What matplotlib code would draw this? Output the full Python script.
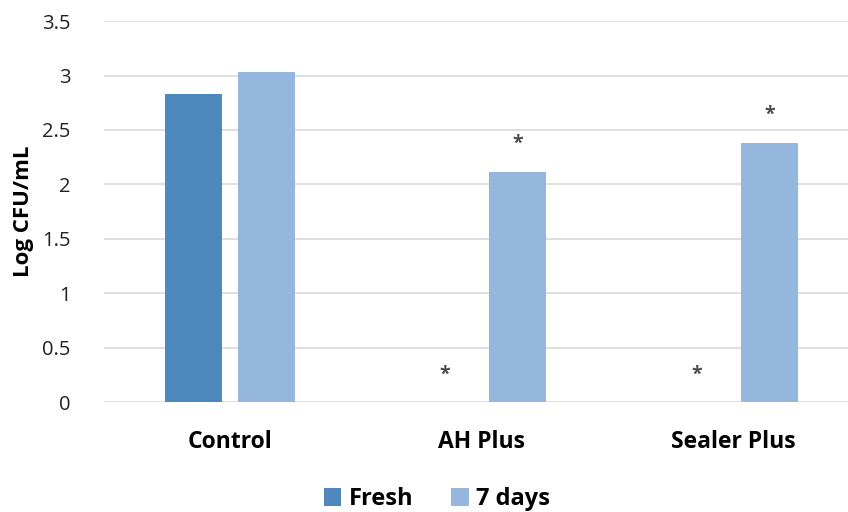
import numpy as np
import matplotlib.pyplot as plt

# dados
groups = ['Control', 'AH Plus', 'Sealer Plus']
fresh = [2.83, 0.0, 0.0]
seven_days = [3.03, 2.11, 2.38]
# asteriscos (diferenca significativa): (grupo, serie, altura)
star_fresh = [None, 0.25, 0.25]
star_7d = [None, 2.37, 2.64]

plt.rcParams['font.family'] = ['Open Sans', 'DejaVu Sans']

fig = plt.figure(figsize=(8.48, 5.12), dpi=100)
ax = fig.add_axes([0.1226, 0.2148, 0.890, 0.744])

x = np.arange(len(groups))
w = 0.226
off = 0.145
c_fresh = '#4f88bd'
c_7d = '#95b7dd'

ax.bar(x - off, fresh, w, color=c_fresh, label='Fresh', zorder=2)
ax.bar(x + off, seven_days, w, color=c_7d, label='7 days', zorder=2)

for i in range(len(groups)):
    if star_fresh[i] is not None:
        ax.text(x[i] - off, star_fresh[i], '*', ha='center', va='center',
                fontsize=14, fontweight='bold', color='#4a4a4a')
    if star_7d[i] is not None:
        ax.text(x[i] + off, star_7d[i], '*', ha='center', va='center',
                fontsize=14, fontweight='bold', color='#4a4a4a')

ax.set_xlim(-0.5, 2.5)
ax.set_ylim(0, 3.5)
ax.set_yticks(np.arange(0, 3.51, 0.5))
ax.set_yticklabels(['0', '0.5', '1', '1.5', '2', '2.5', '3', '3.5'])
ax.set_xticks(x)
ax.set_xticklabels(groups, fontsize=16.5, fontweight='bold')
ax.tick_params(axis='y', labelsize=14.5, length=0, pad=24)
ax.tick_params(axis='x', length=0, pad=20)
for lab in ax.get_yticklabels():
    lab.set_color('#222222')

ax.grid(axis='y', color='#d9d9d9', linewidth=1.2, zorder=0)
ax.set_axisbelow(True)
for s in ax.spines.values():
    s.set_visible(False)

ax.set_ylabel('Log CFU/mL', fontsize=16, fontweight='bold', labelpad=6)

fig.legend(loc='lower center', bbox_to_anchor=(0.515, -0.04), ncol=2, frameon=False,
           prop={'size': 17, 'weight': 'bold'}, handlelength=0.75, handleheight=0.75,
           handletextpad=0.3, columnspacing=1.6)

plt.savefig('out.png', dpi=100)
